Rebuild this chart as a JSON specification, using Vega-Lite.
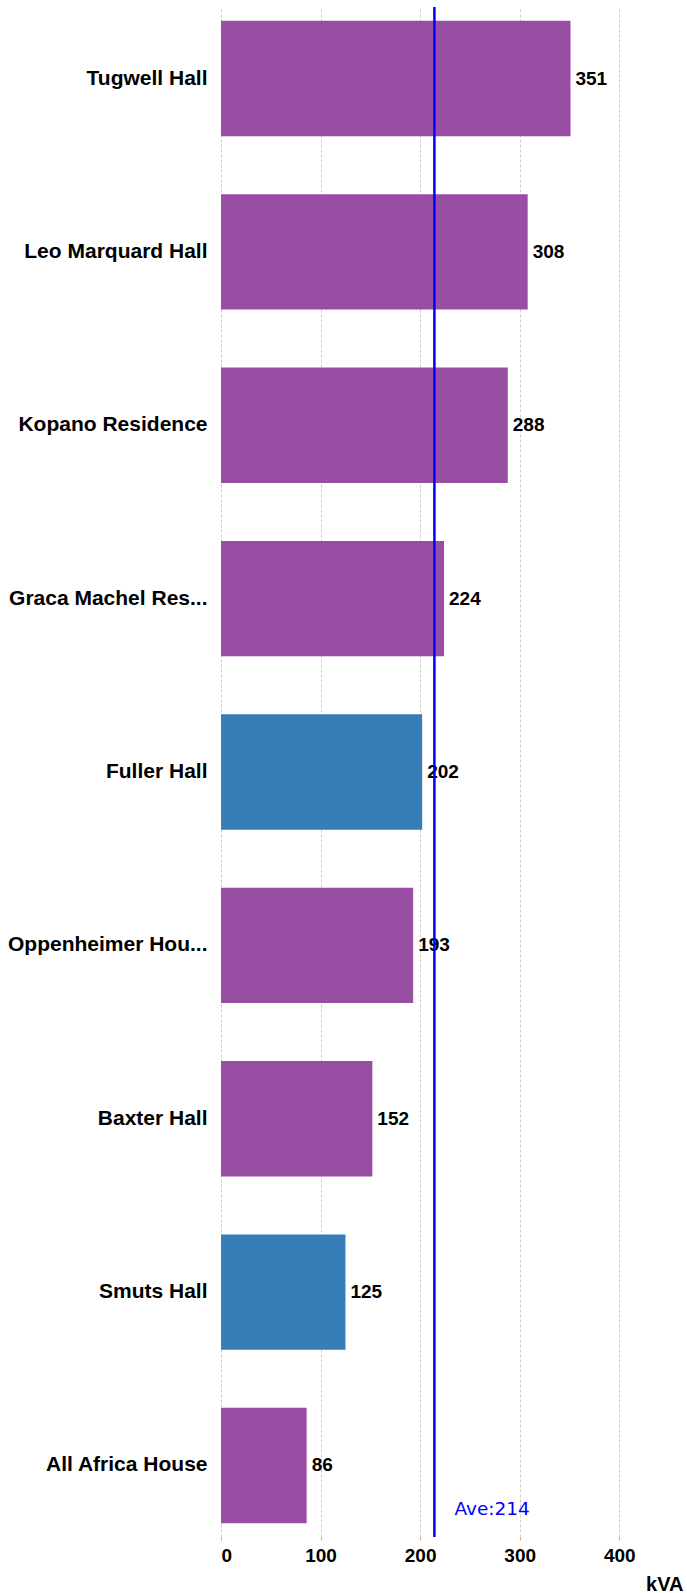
{
  "$schema": "https://vega.github.io/schema/vega-lite/v6.json",
  "autosize": {"type": "none"},
  "padding": {"left": 221, "top": 7, "right": 4, "bottom": 56},
  "width": 462,
  "height": 1530,
  "background": "white",
  "config": {"view": {"stroke": null}},
  "data": {
    "values": [
      {"name": "Tugwell Hall", "kVA": 351, "group": "A"},
      {"name": "Leo Marquard Hall", "kVA": 308, "group": "A"},
      {"name": "Kopano Residence", "kVA": 288, "group": "A"},
      {"name": "Graca Machel Res...", "kVA": 224, "group": "A"},
      {"name": "Fuller Hall", "kVA": 202, "group": "B"},
      {"name": "Oppenheimer Hou...", "kVA": 193, "group": "A"},
      {"name": "Baxter Hall", "kVA": 152, "group": "A"},
      {"name": "Smuts Hall", "kVA": 125, "group": "B"},
      {"name": "All Africa House", "kVA": 86, "group": "A"}
    ]
  },
  "layer": [
    {
      "mark": {"type": "bar"},
      "encoding": {
        "y": {
          "field": "name", "type": "nominal", "sort": null,
          "scale": {"paddingInner": 0.335, "paddingOuter": 0.08},
          "axis": {
            "title": null, "domain": false, "ticks": false, "grid": false,
            "labelFont": "Liberation Sans", "labelFontWeight": "bold", "labelFontSize": 21,
            "labelColor": "black", "labelPadding": 14, "labelLimit": 300
          }
        },
        "x": {
          "field": "kVA", "type": "quantitative",
          "scale": {"domain": [0, 464], "nice": false},
          "axis": {
            "values": [0, 100, 200, 300, 400],
            "title": "kVA", "titleAnchor": "end", "titleAlign": "right", "titleX": 462,
            "titleFont": "Liberation Sans", "titleFontWeight": "bold", "titleFontSize": 20, "titleColor": "black",
            "titlePadding": 9,
            "domain": false, "tickColor": "#f5a05a", "tickSize": 3,
            "grid": true, "gridColor": "#cccccc", "gridDash": [3, 2], "gridWidth": 1,
            "labelFont": "Liberation Sans", "labelFontWeight": "bold", "labelFontSize": 19,
            "labelColor": "black", "labelPadding": 6
          }
        },
        "color": {
          "field": "group", "type": "nominal",
          "scale": {"domain": ["A", "B"], "range": ["#984EA3", "#377EB8"]},
          "legend": null
        }
      }
    },
    {
      "mark": {"type": "text", "align": "left", "baseline": "middle", "dx": 5,
               "font": "Liberation Sans", "fontWeight": "bold", "fontSize": 19, "color": "black"},
      "encoding": {
        "y": {"field": "name", "type": "nominal", "sort": null},
        "x": {"field": "kVA", "type": "quantitative"},
        "text": {"field": "kVA", "type": "quantitative"}
      }
    },
    {
      "transform": [{"aggregate": [{"op": "mean", "field": "kVA", "as": "ave"}]}],
      "mark": {"type": "rule", "color": "#0000FF", "strokeWidth": 2.5},
      "encoding": {
        "x": {"field": "ave", "type": "quantitative"}
      }
    },
    {
      "transform": [
        {"aggregate": [{"op": "mean", "field": "kVA", "as": "ave"}]},
        {"calculate": "'Ave:' + round(datum.ave)", "as": "lbl"}
      ],
      "mark": {"type": "text", "align": "left", "baseline": "middle", "dx": 20, "dy": 44,
               "font": "DejaVu Sans", "fontSize": 18.5, "color": "#0000FF"},
      "encoding": {
        "x": {"field": "ave", "type": "quantitative"},
        "y": {"datum": "All Africa House", "type": "nominal"},
        "text": {"field": "lbl"}
      }
    }
  ]
}
